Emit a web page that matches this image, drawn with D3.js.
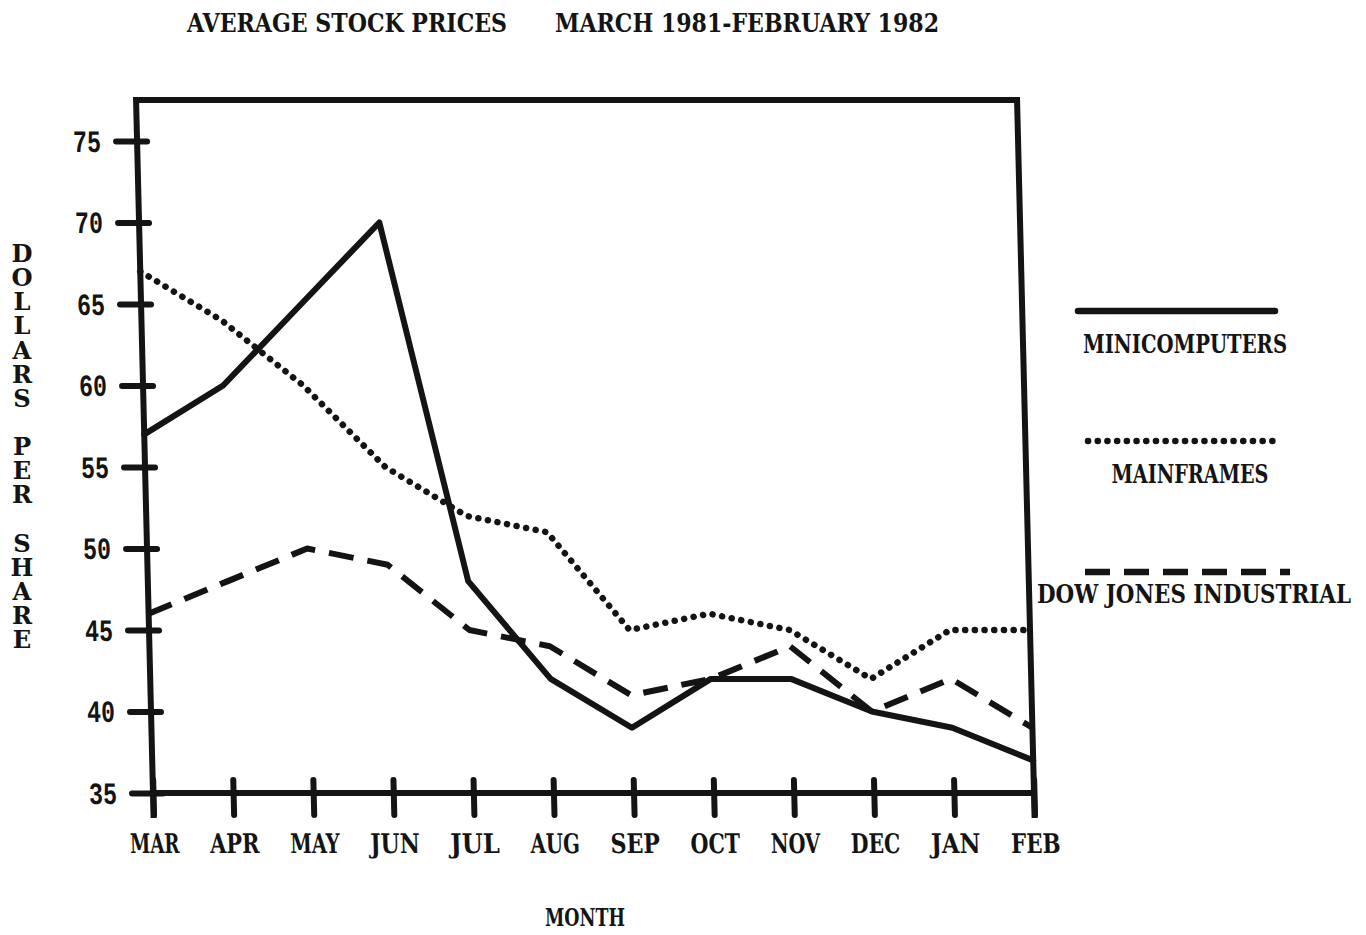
<!DOCTYPE html>
<html>
<head>
<meta charset="utf-8">
<script src="https://cdn.jsdelivr.net/npm/d3@7"></script>
<style>
  body { margin: 0; background: #fff; }
  svg { display: block; }
</style>
</head>
<body>
<svg id="chart" width="1366" height="935"></svg>
<script>
'use strict'

// data
const months = ['MAR', 'APR', 'MAY', 'JUN', 'JUL', 'AUG', 'SEP', 'OCT', 'NOV', 'DEC', 'JAN', 'FEB']
const yTicks = [35, 40, 45, 50, 55, 60, 65, 70, 75]
const minicomputers = [57, 60, 65, 70, 48, 42, 39, 42, 42, 40, 39, 37]
const mainframes = [67, 64, 60, 55, 52, 51, 45, 46, 45, 42, 45, 45]
const dowJones = [46, 48, 50, 49, 45, 44, 41, 42, 44, 40, 42, 39]

const seriesNames = ['MINICOMPUTERS', 'MAINFRAMES', 'DOW JONES INDUSTRIAL']

const ink = '#141414'
const serif = '"DejaVu Serif", "Liberation Serif", serif'
const mono = '"Liberation Mono", "DejaVu Sans Mono", monospace'

const svg = d3.select('#chart')

const plotLeft = 153
const plotTop = 100
const width = 881
const height = 693

// typewriter-ish text: bold slab serif squeezed to a fixed pitch
function typed (sel, pitch, size, family) {
  sel.attr('font-family', family || serif)
    .attr('font-weight', 'bold')
    .attr('font-size', size || 26)
    .attr('fill', ink)
    .attr('lengthAdjust', 'spacingAndGlyphs')
    .attr('textLength', function () { return this.textContent.length * pitch })
}

const x = d3.scalePoint().domain(months).range([0, width])
const y = d3.scaleLinear().domain([35, 75]).range([height, 41])

// the photocopy leans a little, so the plot box is skewed
const g = svg.append('g')
  .attr('transform', `translate(${plotLeft},${plotTop}) translate(0,${height}) skewX(1.4) translate(0,${-height})`)

// frame
const frame = g.append('g')
  .attr('stroke', ink)
  .attr('stroke-width', 6)
  .attr('stroke-linecap', 'square')
  .attr('fill', 'none')

frame.append('path').attr('d', `M0,${height + 22} V0 H${width} V${height + 22}`)
frame.append('line').attr('x1', 0).attr('x2', width).attr('y1', height).attr('y2', height)

// y axis
const yAxis = g.append('g')
  .call(d3.axisLeft(y).tickValues(yTicks).tickSizeOuter(0).tickFormat(d3.format('d')))

yAxis.select('.domain').remove()
yAxis.selectAll('.tick line')
  .attr('x1', 10).attr('x2', -21)
  .attr('stroke', ink).attr('stroke-width', 6).attr('stroke-linecap', 'round')
yAxis.selectAll('.tick text')
  .attr('x', -36).attr('dy', '0.33em')
  .attr('text-anchor', 'end')
  .call(typed, 14, 31, mono)

// x axis
const xAxis = g.append('g')
  .attr('transform', `translate(0,${height})`)
  .call(d3.axisBottom(x).tickSizeOuter(0))

xAxis.select('.domain').remove()
xAxis.selectAll('.tick line')
  .attr('y1', -13).attr('y2', 22)
  .attr('stroke', ink).attr('stroke-width', 6).attr('stroke-linecap', 'round')
xAxis.selectAll('.tick text')
  .attr('y', 60).attr('dy', 0)
  .attr('text-anchor', 'middle')
  .call(typed, 16.5, 27)

// series
const line = d3.line()
  .x((d, i) => x(months[i]))
  .y(d => y(d))

const series = [
  { name: seriesNames[0], values: minicomputers, dash: null, cap: 'round' },
  { name: seriesNames[1], values: mainframes, dash: '0.1 9.6', cap: 'round' },
  { name: seriesNames[2], values: dowJones, dash: '25 14', cap: 'butt' }
]

g.append('g')
  .attr('fill', 'none')
  .attr('stroke', ink)
  .attr('stroke-linejoin', 'round')
  .selectAll('path')
  .data(series)
  .join('path')
  .attr('d', d => line(d.values))
  .attr('stroke-width', d => d.dash === '0.1 9.6' ? 6.5 : 6)
  .attr('stroke-dasharray', d => d.dash)
  .attr('stroke-linecap', d => d.cap)

// legend
const legend = [
  { x1: 1078, x2: 1275, ly: 311, tx: 1185, ty: 353 },
  { x1: 1088, x2: 1277, ly: 441, tx: 1190, ty: 483 },
  { x1: 1085, x2: 1290, ly: 572, tx: 1194, ty: 603 }
]

const lg = svg.append('g')
lg.selectAll('line')
  .data(series)
  .join('line')
  .attr('x1', (d, i) => legend[i].x1)
  .attr('x2', (d, i) => legend[i].x2)
  .attr('y1', (d, i) => legend[i].ly)
  .attr('y2', (d, i) => legend[i].ly)
  .attr('stroke', ink)
  .attr('stroke-width', 6.5)
  .attr('stroke-dasharray', d => d.dash)
  .attr('stroke-linecap', d => d.cap === 'butt' ? 'butt' : 'round')

lg.selectAll('text')
  .data(series)
  .join('text')
  .attr('x', (d, i) => legend[i].tx)
  .attr('y', (d, i) => legend[i].ty)
  .attr('text-anchor', 'middle')
  .text(d => d.name)
  .call(typed, 15.7)

// title, two parts on the typewriter pitch
svg.append('text')
  .attr('x', 187).attr('y', 32)
  .text('AVERAGE STOCK PRICES')
  .call(typed, 16)

svg.append('text')
  .attr('x', 555).attr('y', 32)
  .text('MARCH 1981-FEBRUARY 1982')
  .call(typed, 16)

// x title
svg.append('text')
  .attr('x', 585).attr('y', 926)
  .attr('text-anchor', 'middle')
  .text('MONTH')
  .call(typed, 16, 25)

// y title, letters stacked upright
svg.append('text')
  .attr('x', 22)
  .attr('y', 239)
  .attr('font-family', serif)
  .attr('font-weight', 'bold')
  .attr('font-size', 24.2)
  .attr('fill', ink)
  .style('writing-mode', 'vertical-rl')
  .style('text-orientation', 'upright')
  .style('letter-spacing', '-4.86px')
  .text('DOLLARS PER SHARE')
</script>
</body>
</html>
